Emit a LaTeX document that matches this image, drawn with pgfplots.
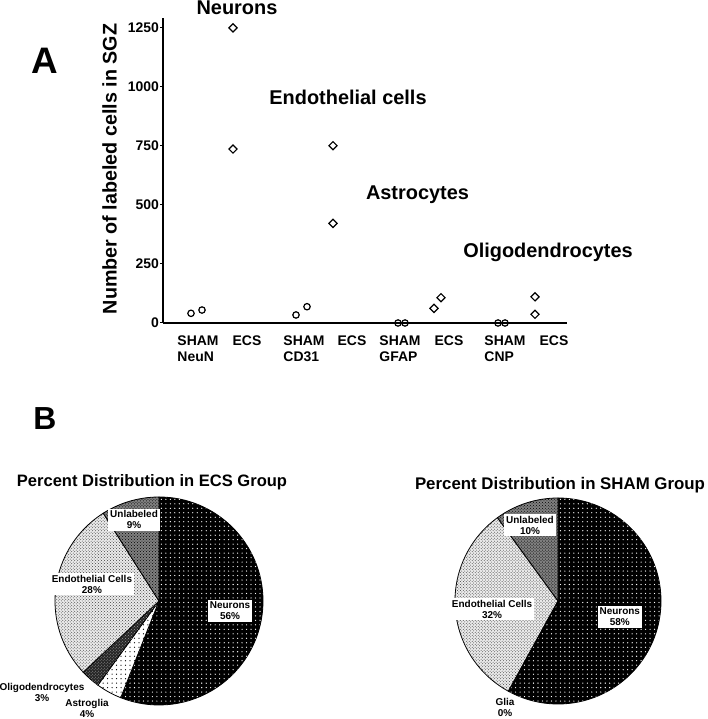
\documentclass[border=0pt]{standalone}
\usepackage{fontspec}
\setmainfont{Liberation Sans}
\usepackage{pgfplots}
\usepackage{pgfplotstable}
\pgfplotsset{compat=1.18}
\usetikzlibrary{patterns}

\pgfdeclarepatternformonly{sparsedots}{\pgfqpoint{-1pt}{-1pt}}{\pgfqpoint{1pt}{1pt}}{\pgfqpoint{4.5pt}{4.5pt}}{\pgfpathcircle{\pgfqpoint{0pt}{0pt}}{.65pt}\pgfusepath{fill}}

\newcommand{\pieslice}[4]{\path[#4] (axis cs:0,0) -- ++(#1:#3) arc[start angle=#1, end angle=#2, radius=#3] -- cycle;}

\tikzset{
  neurons/.style={fill=black, draw=black, line width=0.8bp, postaction={pattern=sparsedots, pattern color=white}},
  astro/.style={fill=white, draw=black, line width=0.8bp, postaction={pattern=sparsedots, pattern color=black}},
  oligo/.style={fill=black!85, draw=black, line width=0.8bp, postaction={pattern=crosshatch dots, pattern color=black!40}},
  endo/.style={fill=black!8, draw=black, line width=0.8bp, postaction={pattern=crosshatch dots, pattern color=black!75}},
  unlab/.style={fill=black!50, draw=black, line width=0.8bp, postaction={pattern=crosshatch dots, pattern color=black}},
  lbl/.style={fill=white, inner sep=2bp, align=center, font=\bfseries\fontsize{10}{11}\selectfont},
  lbln/.style={inner sep=1bp, align=center, font=\bfseries\fontsize{10}{11}\selectfont},
}

\begin{document}
\begin{tikzpicture}
\path[use as bounding box] (0,0) rectangle (708bp,719bp);

% ---------- data ----------
\pgfplotstableread{
x y
28 41
39 55
133 34
144 69
235 0
242 0
335 0
342 0
}\shamdata
\pgfplotstableread{
x y
70 1250
70 737
170 751
170 422
271 62
278 107
372 111
372 37
}\ecspoints
\pgfplotstableread{
slice pct
Neurons 56
Astroglia 4
Oligodendrocytes 3
Endothelial 28
Unlabeled 9
}\ecspie
\pgfplotstableread{
slice pct
Neurons 58
Glia 0
Endothelial 32
Unlabeled 10
}\shampie

\pgfplotstablegetelem{0}{pct}\of\ecspie \pgfmathsetmacro\eA{90-3.6*\pgfplotsretval}
\pgfplotstablegetelem{1}{pct}\of\ecspie \pgfmathsetmacro\eB{\eA-3.6*\pgfplotsretval}
\pgfplotstablegetelem{2}{pct}\of\ecspie \pgfmathsetmacro\eC{\eB-3.6*\pgfplotsretval}
\pgfplotstablegetelem{3}{pct}\of\ecspie \pgfmathsetmacro\eD{\eC-3.6*\pgfplotsretval}
\pgfplotstablegetelem{4}{pct}\of\ecspie \pgfmathsetmacro\eE{\eD-3.6*\pgfplotsretval}

\pgfplotstablegetelem{0}{pct}\of\shampie \pgfmathsetmacro\sA{90-3.6*\pgfplotsretval}
\pgfplotstablegetelem{1}{pct}\of\shampie \pgfmathsetmacro\sB{\sA-3.6*\pgfplotsretval}
\pgfplotstablegetelem{2}{pct}\of\shampie \pgfmathsetmacro\sC{\sB-3.6*\pgfplotsretval}
\pgfplotstablegetelem{3}{pct}\of\shampie \pgfmathsetmacro\sD{\sC-3.6*\pgfplotsretval}

% ---------- panel A ----------
\begin{axis}[
  at={(163bp,396bp)}, anchor=origin,
  width=404bp, height=305bp, scale only axis,
  xmin=0, xmax=404, ymin=0, ymax=1292,
  axis x line=bottom, axis y line=left,
  axis line style={-, line width=2bp},
  ytick={0,250,...,1250},
  xtick={35,84,141,189,237,286,342,391},
  xticklabels={{SHAM\\NeuN},ECS,{SHAM\\CD31},ECS,{SHAM\\GFAP},ECS,{SHAM\\CNP},ECS},
  xtick style={draw=none},
  ytick style={line width=1bp, black},
  tick align=outside, major tick length=3bp,
  /pgf/number format/assume math mode=true,
  /pgf/number format/1000 sep={},
  ticklabel style={font=\bfseries\fontsize{14}{16}\selectfont},
  xticklabel style={align=left, yshift=-6bp},
  yticklabel style={inner xsep=1bp},
  clip=false,
]
\addplot[only marks, mark=o, mark size=3.2bp, line width=1.2bp] table[x=x,y=y]{\shamdata};
\addplot[only marks, mark=square, mark size=2.9bp, line width=1.2bp, every mark/.append style={rotate=45}] table[x=x,y=y]{\ecspoints};
\end{axis}

\node[anchor=base, font=\bfseries\fontsize{20}{24}\selectfont] at (237bp,704bp) {Neurons};
\node[anchor=base, font=\bfseries\fontsize{20}{24}\selectfont] at (348bp,614.7bp) {Endothelial cells};
\node[anchor=base, font=\bfseries\fontsize{20}{24}\selectfont] at (417.5bp,519bp) {Astrocytes};
\node[anchor=base, font=\bfseries\fontsize{20}{24}\selectfont] at (548bp,461.3bp) {Oligodendrocytes};
\node[anchor=base, rotate=90, font=\bfseries\fontsize{19.8}{24}\selectfont] at (116.7bp,550bp) {Number of labeled cells in SGZ};

\node[font=\bfseries\fontsize{37}{40}\selectfont] at (45bp,658bp) {A};
\node[font=\bfseries\fontsize{32}{36}\selectfont] at (45bp,300.5bp) {B};

% ---------- panel B ----------
\node[anchor=base, font=\bfseries\fontsize{16.6}{20}\selectfont] at (152bp,232.3bp) {Percent Distribution in ECS Group};
\node[anchor=base, font=\bfseries\fontsize{16.9}{20}\selectfont] at (560bp,229.7bp) {Percent Distribution in SHAM Group};

\begin{axis}[
  at={(159bp,118bp)}, anchor=origin, hide axis,
  x=104bp, y=104bp, xmin=-1, xmax=1, ymin=-1, ymax=1,
  clip=false,
]
\pieslice{90}{\eA}{104bp}{neurons}
\pieslice{\eA}{\eB}{104bp}{astro}
\pieslice{\eB}{\eC}{104bp}{oligo}
\pieslice{\eC}{\eD}{104bp}{endo}
\pieslice{\eD}{\eE}{104bp}{unlab}
\node[lbl] at (axis cs:-0.24,0.78) {Unlabeled\\9\%};
\node[lbl] at (axis cs:-0.645,0.163) {Endothelial Cells\\28\%};
\node[lbl] at (axis cs:0.683,-0.096) {Neurons\\56\%};
\node[lbln] at (axis cs:-1.125,-0.875) {Oligodendrocytes\\3\%};
\node[lbln] at (axis cs:-0.692,-1.029) {Astroglia\\4\%};
\end{axis}

\begin{axis}[
  at={(558bp,118bp)}, anchor=origin, hide axis,
  x=103bp, y=103bp, xmin=-1, xmax=1, ymin=-1, ymax=1,
  clip=false,
]
\pieslice{90}{\sA}{103bp}{neurons}
\pieslice{\sB}{\sC}{103bp}{endo}
\pieslice{\sC}{\sD}{103bp}{unlab}
\draw[line width=0.8bp] (axis cs:0,0) -- ++(\sA:103bp);
\node[lbl] at (axis cs:-0.272,0.738) {Unlabeled\\10\%};
\node[lbl] at (axis cs:-0.64,-0.078) {Endothelial Cells\\32\%};
\node[lbl] at (axis cs:0.60,-0.155) {Neurons\\58\%};
\node[lbln] at (axis cs:-0.515,-1.03) {Glia\\0\%};
\end{axis}
\end{tikzpicture}
\end{document}
